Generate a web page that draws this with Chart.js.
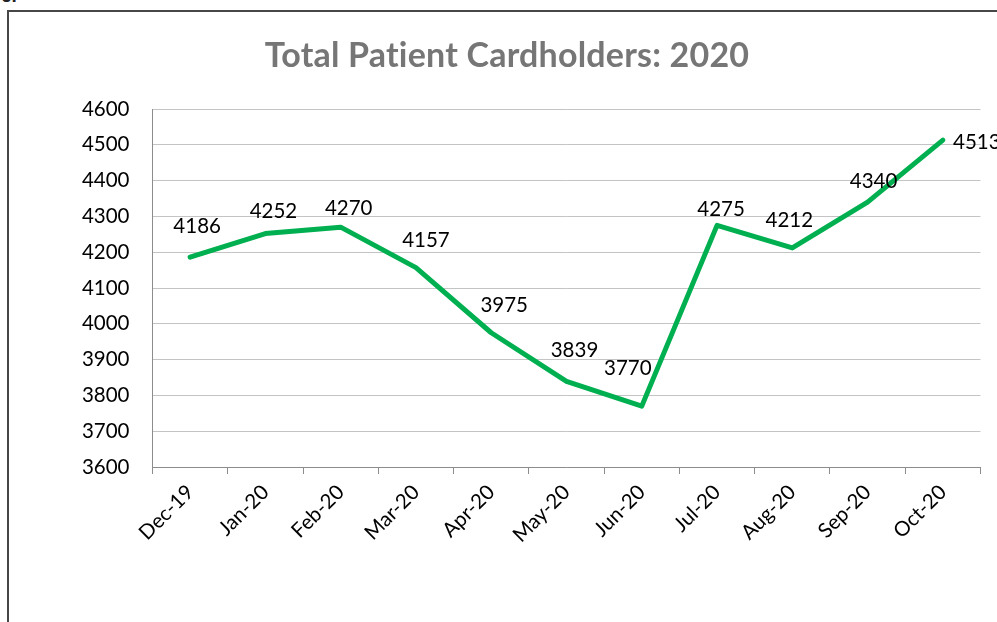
<!DOCTYPE html>
<html>
<head>
<meta charset="utf-8">
<script src="https://cdn.jsdelivr.net/npm/chart.js@4/dist/chart.umd.min.js"></script>
<style>
  html, body { margin: 0; padding: 0; background: #ffffff; overflow: hidden; }
  body { width: 997px; height: 622px; position: relative; }
  #frame { position: absolute; left: 7px; top: 10px; width: 1200px; height: 800px; border: 2px solid #474747; box-sizing: border-box; }
  #frag { position: absolute; left: 1px; top: -15px; font: bold 19px "Liberation Sans", sans-serif; color: #222; }
  #c { position: absolute; left: 0; top: 0; }
</style>
</head>
<body>
<div id="frag">6.</div>
<div id="frame"></div>
<canvas id="c" width="997" height="622"></canvas>
<script>
// ---- data ----
const categories = ['Dec-19','Jan-20','Feb-20','Mar-20','Apr-20','May-20','Jun-20','Jul-20','Aug-20','Sep-20','Oct-20'];
const cardholders = [4186, 4252, 4270, 4157, 3975, 3839, 3770, 4275, 4212, 4340, 4513];
const yMin = 3600;
const yMax = 4600;
const yStep = 100;
const chartTitle = 'Total Patient Cardholders: 2020';

// label nudges (pixels) relative to each point, as placed in the original
const labelNudges = [[7,-31],[8,-22],[8,-19],[10,-27],[13,-27],[8,-31],[-14,-38],[4,-16],[-3,-28],[6,-21],[34,2]];

const labelFont = '20.5px Lato';

const pointValuesPlugin = {
  id: 'pointValues',
  afterDatasetsDraw(chart, args, opts) {
    const meta = chart.getDatasetMeta(0);
    const ctx = chart.ctx;
    ctx.save();
    ctx.font = opts.font;
    ctx.fillStyle = opts.color;
    ctx.textAlign = 'center';
    ctx.textBaseline = 'middle';
    meta.data.forEach((pt, i) => {
      const n = opts.nudges[i] || [0, -25];
      ctx.fillText(String(chart.data.datasets[0].data[i]), pt.x + n[0], pt.y + n[1]);
    });
    ctx.restore();
  }
};

const titlePlugin = {
  id: 'customTitle',
  afterDraw(chart, args, opts) {
    const ctx = chart.ctx;
    ctx.save();
    ctx.font = opts.font;
    if ('letterSpacing' in ctx) ctx.letterSpacing = '0.2px';
    ctx.fillStyle = opts.color;
    ctx.textAlign = 'center';
    ctx.textBaseline = 'middle';
    ctx.fillText(opts.text, opts.x, opts.y);
    ctx.restore();
  }
};

new Chart(document.getElementById('c'), {
  type: 'line',
  data: {
    labels: categories,
    datasets: [{
      data: cardholders,
      borderColor: '#00b050',
      backgroundColor: '#00b050',
      borderWidth: 5,
      borderJoinStyle: 'round',
      borderCapStyle: 'round',
      tension: 0,
      pointRadius: 0,
      pointHoverRadius: 0,
      fill: false
    }]
  },
  options: {
    responsive: false,
    animation: false,
    events: [],
    layout: { padding: { top: 109, right: 16.5, bottom: 0, left: 0 } },
    plugins: {
      legend: { display: false },
      tooltip: { enabled: false },
      title: { display: false },
      pointValues: { font: labelFont, color: '#000000', nudges: labelNudges },
      customTitle: { text: chartTitle, font: 'bold 34px Lato', color: '#767676', x: 507, y: 56 }
    },
    scales: {
      x: {
        type: 'category',
        offset: true,
        grid: { display: true, drawOnChartArea: false, drawTicks: true, tickLength: 7, offset: true, color: '#8c8c8c' },
        border: { display: true, color: '#8c8c8c', width: 1 },
        ticks: { autoSkip: false, minRotation: 45, maxRotation: 45, padding: 6, color: '#000000', font: { family: 'Lato', size: 20.5 } },
        afterFit(scale) { scale.height = 155; }
      },
      y: {
        min: yMin,
        max: yMax,
        ticks: { stepSize: yStep, padding: 23, color: '#000000', font: { family: 'Lato', size: 20.5 },
                 callback: (v) => String(v) },
        grid: { color: '#c4c4c4', drawTicks: false, lineWidth: 1 },
        border: { display: true, color: '#8c8c8c', width: 1 },
        afterFit(scale) { scale.width = 152.5; }
      }
    }
  },
  plugins: [pointValuesPlugin, titlePlugin]
});
</script>
</body>
</html>
